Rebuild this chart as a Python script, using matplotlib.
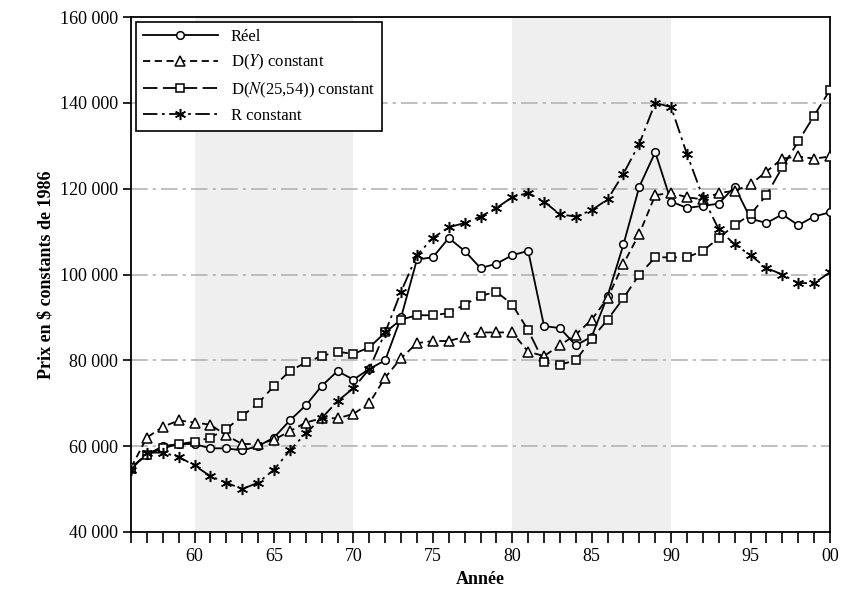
import matplotlib
matplotlib.use("Agg")
import matplotlib.pyplot as plt
from matplotlib.ticker import FuncFormatter, MultipleLocator

plt.rcParams["font.family"] = ["Liberation Serif", "DejaVu Serif"]
plt.rcParams["mathtext.fontset"] = "stix"

years = list(range(1956, 2001))
reel = [55, 58, 60, 60.5, 60.5, 59.5, 59.5, 59, 60, 62, 66, 69.5, 74, 77.5, 75.5, 78, 80, 90,
        103.5, 104, 108.5, 105.5, 101.5, 102.5, 104.5, 105.5, 88, 87.5, 83.5, 85.5, 95, 107,
        120.5, 128.5, 117, 115.5, 116, 116.5, 120.5, 113, 112, 114, 111.5, 113.5, 114.5]
d_y = [55, 62, 64.5, 66, 65.5, 65, 62.5, 60.5, 60.5, 61.5, 63.5, 65.5, 66.5, 66.5, 67.5, 70, 76,
       80.5, 84, 84.5, 84.5, 85.5, 86.5, 86.5, 86.5, 82, 81, 83.5, 86, 89.5, 94.5, 102.5, 109.5,
       118.5, 119, 118, 117.5, 119, 119.5, 121, 124, 127, 127.5, 127, 127.5]
d_n = [55, 58, 59.5, 60.5, 61, 62, 64, 67, 70, 74, 77.5, 79.5, 81, 82, 81.5, 83, 86.5, 89.5,
       90.5, 90.5, 91, 93, 95, 96, 93, 87, 79.5, 79, 80, 85, 89.5, 94.5, 100, 104, 104, 104,
       105.5, 108.5, 111.5, 114, 118.5, 125, 131, 137, 143]
r_c = [54.5, 58.5, 58.5, 57.5, 55.5, 53, 51.5, 50, 51.5, 54.5, 59, 63, 66.5, 70.5, 73.5, 78,
       86.5, 96, 104.5, 108.5, 111, 112, 113.5, 115.5, 118, 119, 117, 114, 113.5, 115, 117.5,
       123.5, 130.5, 140, 139, 128, 118, 110.5, 107, 104.5, 101.5, 100, 98, 98, 100.5]

series = [
    ("Réel", reel, "-", "o"),
    ("D($Y$) constant", d_y, (0, (4, 2.5)), "^"),
    ("D($N$(25,54)) constant", d_n, (0, (8, 3)), "s"),
    ("R constant", r_c, (0, (8, 2.5, 1.5, 2.5)), (6, 2, 0)),
]

fig = plt.figure(figsize=(8.42, 6.09), dpi=100)
ax = fig.add_axes([131 / 842, 1 - 532 / 609, (830 - 131) / 842, (532 - 17) / 609])

ax.axvspan(1960, 1970, color="#efefef", zorder=0, lw=0)
ax.axvspan(1980, 1990, color="#efefef", zorder=0, lw=0)
for v in range(60000, 150000, 20000):
    ax.axhline(v, color="#b4b4b4", lw=1.2, ls=(0, (10, 3, 2, 3)), zorder=1)

for label, vals, ls, mk in series:
    ms = {"o": 5.5, "^": 6.5, "s": 5.5}.get(mk, 8) if isinstance(mk, str) else 8
    ax.plot(years, [v * 1000 for v in vals], color="black", lw=1.3, ls=ls, marker=mk,
            ms=ms, mfc="white", mec="black", mew=1.1, label=label, zorder=3)

ax.set_xlim(1956, 2000)
ax.set_ylim(40000, 160000)
ax.xaxis.set_minor_locator(MultipleLocator(1))
ax.set_xticks([1960, 1965, 1970, 1975, 1980, 1985, 1990, 1995, 2000])
ax.xaxis.set_major_formatter(FuncFormatter(lambda x, p: f"{int(x) % 100:02d}"))
ax.yaxis.set_major_locator(MultipleLocator(20000))
ax.yaxis.set_major_formatter(FuncFormatter(lambda y, p: f"{int(y):,}".replace(",", " ")))
ax.tick_params(axis="x", which="major", length=8, width=1.2, labelsize=13)
ax.tick_params(axis="x", which="minor", length=8, width=1.2)
ax.tick_params(axis="y", length=6, width=1.2, labelsize=13)
for s in ax.spines.values():
    s.set_linewidth(1.3)

ax.set_xlabel("Année", fontsize=13, fontweight="bold")
ax.set_ylabel("Prix en $ constants de 1986", fontsize=13, fontweight="bold")

leg = ax.legend(loc="upper left", fontsize=12, handlelength=4.5, fancybox=False,
                framealpha=1, edgecolor="black", borderaxespad=0.3)
leg.get_frame().set_linewidth(1.2)

fig.savefig("out.png", dpi=100)
